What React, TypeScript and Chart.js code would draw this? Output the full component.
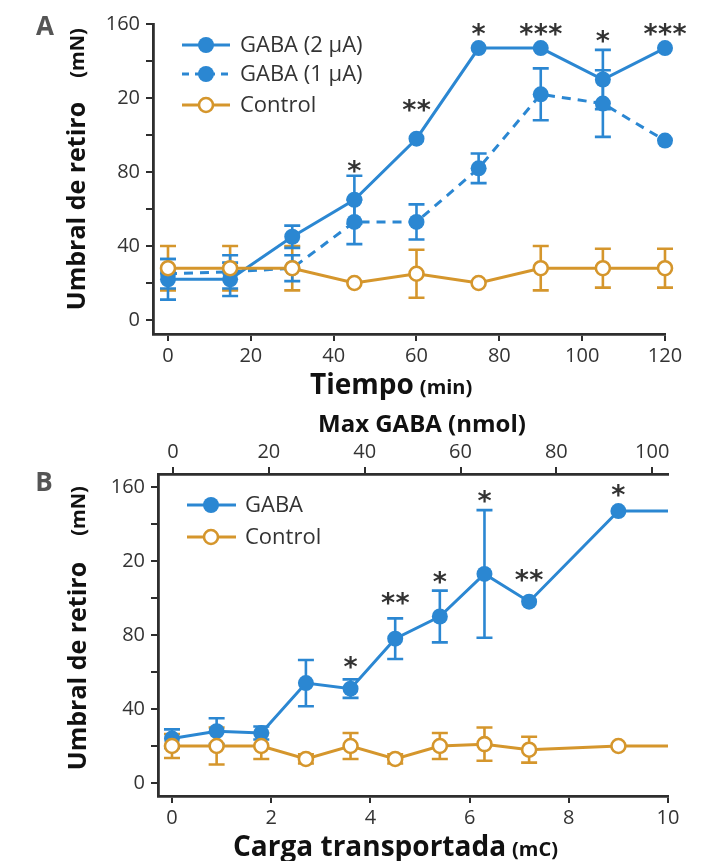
import React, { useEffect, useRef } from "react";
import { Chart, registerables } from "chart.js";

Chart.register(...registerables);

// ---------- Panel A data ----------
const timeMin = [0, 15, 30, 45, 60, 75, 90, 105, 120];
const gaba2uA = [22, 22, 45, 65, 98, 147, 147, 130, 147];
const gaba2uAErr = [11, 9, 6, 13, 0, 0, 0, 16, 0];
const gaba1uA = [25, 26, 28, 53, 53, 82, 122, 117, 97];
const gaba1uAErr = [8, 9, 7, 12, 9.5, 8, 14, 18, 0];
const controlA = [28, 28, 28, 20, 25, 20, 28, 28, 28];
const controlAErr = [12, 12, 12, 0, 13, 0, 12, 10.5, 10.5];
const sigA = ["", "", "", "*", "**", "*", "***", "*", "***"];
const sigAY = [0, 0, 0, 83, 116, 157, 157, 153, 157];
const xTicksA = [0, 20, 40, 60, 80, 100, 120];

// shared y ticks (label at 120 reads "20" in the source figure)
const yTickValues = [0, 20, 40, 60, 80, 100, 120, 140, 160];
const yTickLabels = ["0", "", "40", "", "80", "", "20", "", "160"];

// ---------- Panel B data ----------
const chargeMC = [0, 0.9, 1.8, 2.7, 3.6, 4.5, 5.4, 6.3, 7.2, 9, 10];
const gabaB = [24, 28, 27, 54, 51, 78, 90, 113, 98, 147, 147];
const gabaBErr = [5, 7, 3.5, 12.5, 5, 11, 14, 34.5, 0, 0, 0];
const controlB = [20, 20, 20, 13, 20, 13, 20, 21, 18, 20, 20];
const controlBErr = [6.5, 10, 7, 2.5, 7, 2.5, 7, 9, 7, 0, 0];
const markerB = [true, true, true, true, true, true, true, true, true, true, false];
const sigB = ["", "", "", "", "*", "**", "*", "*", "**", "*", ""];
const sigBY = [0, 0, 0, 0, 65, 99.5, 111, 154.6, 112.4, 158, 0];
const xTicksB = [0, 2, 4, 6, 8, 10];
const xTicksNmol = [0, 20, 40, 60, 80, 100];

const BLUE = "#2b87d2";
const ORANGE = "#d5962c";
const AXIS = "#2e2e2e";
const TICKCOL = "#333333";
const FONT = "'Open Sans', 'Noto Sans', sans-serif";

const errorBarPlugin = {
  id: "errbars",
  beforeDatasetsDraw(chart: any) {
    const ctx = chart.ctx;
    chart.data.datasets.forEach((ds: any, i: number) => {
      if (!ds.errors) return;
      const meta = chart.getDatasetMeta(i);
      const xs = chart.scales[meta.xAxisID];
      const ys = chart.scales[meta.yAxisID];
      ds.data.forEach((p: any, j: number) => {
        const e = ds.errors[j];
        if (!e) return;
        const px = xs.getPixelForValue(p.x);
        const top = ys.getPixelForValue(p.y + e);
        const bot = ys.getPixelForValue(p.y - e);
        ctx.save();
        ctx.strokeStyle = ds.borderColor;
        ctx.lineWidth = 2.6;
        ctx.setLineDash([]);
        ctx.beginPath();
        ctx.moveTo(px, top);
        ctx.lineTo(px, bot);
        ctx.moveTo(px - 8, top);
        ctx.lineTo(px + 8, top);
        ctx.moveTo(px - 8, bot);
        ctx.lineTo(px + 8, bot);
        ctx.stroke();
        ctx.restore();
      });
    });
  },
};

const decorPlugin = {
  id: "decor",
  afterDatasetsDraw(chart: any, _args: any, opts: any) {
    const ctx = chart.ctx;
    const xs = chart.scales.x;
    const ys = chart.scales.y;
    ctx.save();
    // significance stars
    ctx.fillStyle = "#333";
    ctx.font = "bold 27px 'DejaVu Sans'";
    ctx.textAlign = "center";
    ctx.textBaseline = "alphabetic";
    const m = ctx.measureText("*");
    const asc = m.actualBoundingBoxAscent;
    const desc = m.actualBoundingBoxDescent;
    (opts.stars || []).forEach((st: any) => {
      if (!st.text) return;
      const cx = xs.getPixelForValue(st.x);
      const cy = ys.getPixelForValue(st.y);
      const n = st.text.length;
      const sp = 14.5;
      for (let k = 0; k < n; k++) {
        const x = cx + (k - (n - 1) / 2) * sp;
        ctx.fillText("*", x, cy + (asc - desc) / 2);
      }
    });

    // legend
    const lg = opts.legend;
    if (lg) {
      lg.items.forEach((it: any) => {
        ctx.save();
        ctx.strokeStyle = it.color;
        ctx.lineWidth = 3;
        ctx.setLineDash(it.dash || []);
        ctx.beginPath();
        ctx.moveTo(lg.x0, it.y);
        ctx.lineTo(lg.x1, it.y);
        ctx.stroke();
        ctx.setLineDash([]);
        ctx.beginPath();
        ctx.arc(lg.xm, it.y, it.filled ? 8 : 7, 0, Math.PI * 2);
        if (it.filled) {
          ctx.fillStyle = it.color;
          ctx.fill();
        } else {
          ctx.fillStyle = "#fff";
          ctx.fill();
          ctx.lineWidth = 2.6;
          ctx.stroke();
        }
        ctx.fillStyle = "#333";
        ctx.font = "22px " + FONT;
        ctx.textAlign = "left";
        ctx.textBaseline = "middle";
        ctx.fillText(it.label, lg.xt, it.y + 1);
        ctx.restore();
      });
    }

    // panel letter
    if (opts.letter) {
      ctx.fillStyle = "#555";
      ctx.font = "bold 26px " + FONT;
      ctx.textAlign = "center";
      ctx.textBaseline = "middle";
      ctx.fillText(opts.letter.text, opts.letter.x, opts.letter.y);
    }

    // y title (rotated)
    if (opts.yTitle) {
      const t = opts.yTitle;
      ctx.fillStyle = "#111";
      ctx.textAlign = "center";
      ctx.textBaseline = "middle";
      ctx.save();
      ctx.translate(t.x, t.yMain);
      ctx.rotate(-Math.PI / 2);
      ctx.font = "bold 25px " + FONT;
      ctx.fillText(t.main, 0, 0);
      ctx.restore();
      ctx.save();
      ctx.translate(t.x, t.ySub);
      ctx.rotate(-Math.PI / 2);
      ctx.font = "bold 20px " + FONT;
      ctx.fillText(t.sub, 0, 0);
      ctx.restore();
    }

    // horizontal titles
    (opts.hTitles || []).forEach((t: any) => {
      ctx.fillStyle = "#111";
      ctx.textAlign = "left";
      ctx.textBaseline = "alphabetic";
      ctx.font = "bold " + t.mainSize + "px " + FONT;
      ctx.fillText(t.main, t.x, t.y);
      if (t.sub) {
        const w = ctx.measureText(t.main).width;
        ctx.font = "bold " + t.subSize + "px " + FONT;
        ctx.fillText(t.sub, t.x + w + 6, t.y);
      }
    });
    ctx.restore();
  },
};

function axisCommon(extra: any) {
  return {
    type: "linear",
    grid: {
      display: true,
      drawOnChartArea: false,
      drawTicks: true,
      tickLength: 7,
      color: AXIS,
      lineWidth: 2,
    },
    border: { display: true, color: AXIS, width: 2.8 },
    ...extra,
  };
}

function makeConfigA(): any {
  const pts = (ys: number[]) => timeMin.map((t, i) => ({ x: t, y: ys[i] }));
  return {
    type: "line",
    data: {
      datasets: [
        {
          label: "Control",
          data: pts(controlA),
          errors: controlAErr,
          borderColor: ORANGE,
          backgroundColor: "#fff",
          pointBackgroundColor: "#fff",
          pointBorderColor: ORANGE,
          pointBorderWidth: 2.6,
          pointRadius: 7,
          borderWidth: 3,
          clip: false,
        },
        {
          label: "GABA (2 µA)",
          data: pts(gaba2uA),
          errors: gaba2uAErr,
          borderColor: BLUE,
          backgroundColor: BLUE,
          pointBackgroundColor: BLUE,
          pointBorderColor: BLUE,
          pointBorderWidth: 0,
          pointRadius: 8,
          borderWidth: 3,
          clip: false,
        },
        {
          label: "GABA (1 µA)",
          data: pts(gaba1uA),
          errors: gaba1uAErr,
          borderColor: BLUE,
          backgroundColor: BLUE,
          pointBackgroundColor: BLUE,
          pointBorderColor: BLUE,
          pointBorderWidth: 0,
          pointRadius: 8,
          borderWidth: 3,
          borderDash: [9, 7],
          clip: false,
        },
      ],
    },
    options: {
      animation: false,
      responsive: false,
      maintainAspectRatio: false,
      layout: { padding: { top: 24, right: 48, left: 0, bottom: 0 } },
      plugins: {
        legend: { display: false },
        tooltip: { enabled: false },
        decor: {
          stars: timeMin.map((t, i) => ({ x: t, y: sigAY[i], text: sigA[i] })),
          legend: {
            x0: 182,
            x1: 230,
            xm: 206,
            xt: 240,
            items: [
              { label: "GABA (2 µA)", color: BLUE, filled: true, y: 45 },
              { label: "GABA (1 µA)", color: BLUE, filled: true, dash: [7, 6], y: 74 },
              { label: "Control", color: ORANGE, filled: false, y: 105 },
            ],
          },
          letter: { text: "A", x: 45, y: 28 },
          yTitle: { x: 78, yMain: 206, ySub: 53, main: "Umbral de retiro", sub: "(mN)" },
          hTitles: [{ main: "Tiempo", sub: "(min)", x: 310, y: 394, mainSize: 28, subSize: 20 }],
        },
      },
      scales: {
        x: axisCommon({
          min: -3.62,
          max: 120,
          afterBuildTicks: (s: any) => {
            s.ticks = xTicksA.map((v) => ({ value: v }));
          },
          afterFit: (s: any) => {
            s.height = 66;
          },
          ticks: { font: { family: FONT, size: 20 }, color: TICKCOL, padding: 3, maxRotation: 0, autoSkip: false },
        }),
        y: axisCommon({
          min: -7.57,
          max: 160,
          afterBuildTicks: (s: any) => {
            s.ticks = yTickValues.map((v) => ({ value: v }));
          },
          afterFit: (s: any) => {
            s.width = 153;
          },
          ticks: {
            font: { family: FONT, size: 20 },
            color: TICKCOL,
            padding: 6,
            autoSkip: false,
            callback: (_v: any, i: number) => yTickLabels[i],
          },
        }),
      },
    },
    plugins: [errorBarPlugin, decorPlugin],
  };
}

function makeConfigB(): any {
  const pts = (ys: number[]) => chargeMC.map((t, i) => ({ x: t, y: ys[i] }));
  return {
    type: "line",
    data: {
      datasets: [
        {
          label: "Control",
          data: pts(controlB),
          errors: controlBErr,
          xAxisID: "x",
          borderColor: ORANGE,
          backgroundColor: "#fff",
          pointBackgroundColor: "#fff",
          pointBorderColor: ORANGE,
          pointBorderWidth: 2.6,
          pointRadius: markerB.map((m) => (m ? 7 : 0)),
          borderWidth: 3,
          clip: false,
        },
        {
          label: "GABA",
          data: pts(gabaB),
          errors: gabaBErr,
          xAxisID: "x",
          borderColor: BLUE,
          backgroundColor: BLUE,
          pointBackgroundColor: BLUE,
          pointBorderColor: BLUE,
          pointBorderWidth: 0,
          pointRadius: markerB.map((m) => (m ? 8 : 0)),
          borderWidth: 3,
          clip: false,
        },
      ],
    },
    options: {
      animation: false,
      responsive: false,
      maintainAspectRatio: false,
      layout: { padding: { top: 0, right: 45, left: 0, bottom: 0 } },
      plugins: {
        legend: { display: false },
        tooltip: { enabled: false },
        decor: {
          stars: chargeMC.map((t, i) => ({ x: t, y: sigBY[i], text: sigB[i] })),
          legend: {
            x0: 187,
            x1: 236,
            xm: 211,
            xt: 245,
            items: [
              { label: "GABA", color: BLUE, filled: true, y: 105 },
              { label: "Control", color: ORANGE, filled: false, y: 137 },
            ],
          },
          letter: { text: "B", x: 44, y: 84 },
          yTitle: { x: 79, yMain: 266, ySub: 111, main: "Umbral de retiro", sub: "(mN)" },
          hTitles: [
            { main: "Max GABA (nmol)", x: 318, y: 32, mainSize: 24 },
            { main: "Carga transportada", sub: "(mC)", x: 233, y: 456, mainSize: 28, subSize: 20 },
          ],
        },
      },
      scales: {
        x: axisCommon({
          position: "bottom",
          min: -0.282,
          max: 10,
          afterBuildTicks: (s: any) => {
            s.ticks = xTicksB.map((v) => ({ value: v }));
          },
          afterFit: (s: any) => {
            s.height = 65;
          },
          ticks: { font: { family: FONT, size: 20 }, color: TICKCOL, padding: 3, maxRotation: 0, autoSkip: false },
        }),
        x2: axisCommon({
          position: "top",
          min: -3.13,
          max: 103.3,
          afterBuildTicks: (s: any) => {
            s.ticks = xTicksNmol.map((v) => ({ value: v }));
          },
          afterFit: (s: any) => {
            s.height = 74;
          },
          ticks: { font: { family: FONT, size: 20 }, color: TICKCOL, padding: 3, maxRotation: 0, autoSkip: false },
        }),
        y: axisCommon({
          min: -7.03,
          max: 167.03,
          afterBuildTicks: (s: any) => {
            s.ticks = yTickValues.map((v) => ({ value: v }));
          },
          afterFit: (s: any) => {
            s.width = 158;
          },
          ticks: {
            font: { family: FONT, size: 20 },
            color: TICKCOL,
            padding: 6,
            autoSkip: false,
            callback: (_v: any, i: number) => yTickLabels[i],
          },
        }),
      },
    },
    plugins: [errorBarPlugin, decorPlugin],
  };
}

export default function App() {
  const refA = useRef<HTMLCanvasElement | null>(null);
  const refB = useRef<HTMLCanvasElement | null>(null);

  useEffect(() => {
    const a = new Chart(refA.current as HTMLCanvasElement, makeConfigA());
    const b = new Chart(refB.current as HTMLCanvasElement, makeConfigB());
    return () => {
      a.destroy();
      b.destroy();
    };
  }, []);

  return (
    <div style={{ position: "absolute", left: 0, top: 0, width: 713, height: 861, background: "#fff" }}>
      <canvas
        ref={refA}
        width={713}
        height={400}
        style={{ position: "absolute", left: 0, top: 0, width: 713, height: 400 }}
      />
      <canvas
        ref={refB}
        width={713}
        height={461}
        style={{ position: "absolute", left: 0, top: 400, width: 713, height: 461 }}
      />
    </div>
  );
}
